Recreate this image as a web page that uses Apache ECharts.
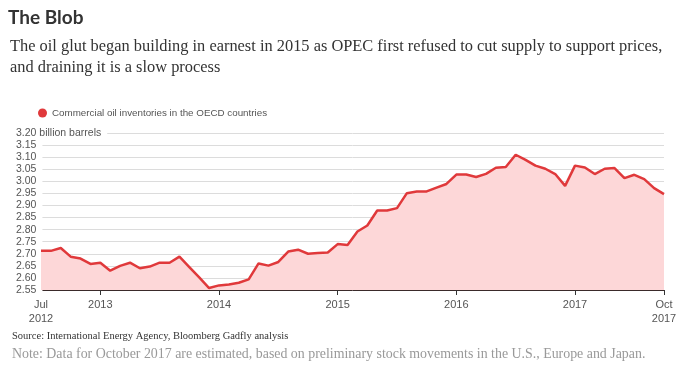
<!DOCTYPE html>
<html><head><meta charset="utf-8">
<script src="https://cdn.jsdelivr.net/npm/echarts@6/dist/echarts.min.js"></script>
<style>html,body{margin:0;padding:0;background:#fff}#c{width:687px;height:374px}</style>
</head><body><div id="c"></div>
<script>
const months = [];
const monthNames = ['Jan','Feb','Mar','Apr','May','Jun','Jul','Aug','Sep','Oct','Nov','Dec'];
for (let y = 2012, m = 6; !(y === 2017 && m === 10); ) { months.push(monthNames[m] + ' ' + y); m++; if (m === 12) { m = 0; y++; } }
const inventories = [
  2.712, 2.712, 2.724, 2.688, 2.680, 2.658,
  2.663, 2.630, 2.650, 2.663, 2.640, 2.647, 2.663, 2.663, 2.688, 2.645, 2.602, 2.558,
  2.569, 2.573, 2.580, 2.594, 2.660, 2.651, 2.666, 2.709, 2.717, 2.700, 2.703, 2.705,
  2.740, 2.736, 2.792, 2.817, 2.879, 2.879, 2.889, 2.951, 2.958, 2.958, 2.974, 2.989,
  3.028, 3.028, 3.018, 3.031, 3.056, 3.059, 3.110, 3.089, 3.065, 3.052, 3.030, 2.981,
  3.065, 3.057, 3.030, 3.052, 3.055, 3.013, 3.027, 3.009, 2.972, 2.947
];
const xLabels = {0: 'Jul\n2012', 6: '2013', 18: '2014', 30: '2015', 42: '2016', 54: '2017', 63: 'Oct\n2017'};
const tickIdx = [6, 18, 30, 42, 54, 63];

const chart = echarts.init(document.getElementById('c'));
chart.setOption({
  animation: false,
  graphic: [
    {type: 'text', left: 8, top: 8, style: {text: 'The Blob', font: 'bold 19px Lato', fill: '#333'}},
    {type: 'text', left: 10, top: 36, style: {text: 'The oil glut began building in earnest in 2015 as OPEC first refused to cut supply to support prices,\nand draining it is a slow process', font: '16.4px "Liberation Serif"', fill: '#333', lineHeight: 21}},
    {type: 'text', left: 12, top: 331, style: {text: 'Source: International Energy Agency, Bloomberg Gadfly analysis', font: '10.5px "Liberation Serif"', fill: '#333'}},
    {type: 'text', left: 12, top: 347, style: {text: 'Note: Data for October 2017 are estimated, based on preliminary stock movements in the U.S., Europe and Japan.', font: '13.9px "Liberation Serif"', fill: '#999'}}
  ],
  legend: {
    left: 33, top: 103, icon: 'circle', itemWidth: 9, itemHeight: 9, itemGap: 6,
    textStyle: {fontFamily: 'Liberation Sans', fontSize: 9.8, color: '#555'},
    data: ['Commercial oil inventories in the OECD countries']
  },
  grid: {left: 41, right: 23, top: 133, bottom: 84},
  xAxis: {
    type: 'category', data: months, boundaryGap: false,
    axisLine: {lineStyle: {color: '#3a2a2a', width: 1}},
    axisTick: {show: true, length: 5, lineStyle: {color: '#333'}, interval: (i) => tickIdx.includes(i)},
    axisLabel: {
      interval: (i) => xLabels[i] !== undefined,
      formatter: (v, i) => xLabels[i] || '',
      fontFamily: 'Liberation Sans', fontSize: 11, color: '#555', lineHeight: 14, margin: 8
    }
  },
  yAxis: {
    type: 'value', min: 2.55, max: 3.20, interval: 0.05,
    axisLine: {show: false}, axisTick: {show: false},
    splitLine: {lineStyle: {color: '#dcdcdc', width: 1}},
    axisLabel: {
      align: 'left', margin: 25, fontFamily: 'Liberation Sans', fontSize: 10.5, color: '#555',
      formatter: (v) => Math.abs(v - 3.2) < 1e-6 ? '3.20 billion barrels' : v.toFixed(2),
      backgroundColor: '#fff', padding: [0, 6, 0, 0]
    }
  },
  series: [{
    name: 'Commercial oil inventories in the OECD countries',
    type: 'line', data: inventories, symbol: 'none',
    itemStyle: {color: '#e0393b'},
    lineStyle: {color: '#e0393b', width: 2.5},
    areaStyle: {color: '#fdd7d8', opacity: 1}
  }]
});
</script></body></html>
